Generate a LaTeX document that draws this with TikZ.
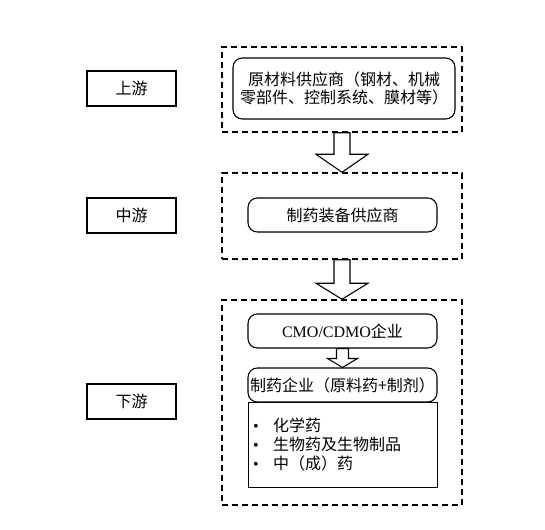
\documentclass[tikz,border=0pt]{standalone}
\usepackage{fontspec}
\setmainfont{Liberation Serif}
\newfontfamily\cjk{Noto Sans CJK SC}
\newcommand{\cjkbig}{\cjk\fontsize{12}{14.4}\selectfont}
\usetikzlibrary{calc}

\tikzset{
  tierbox/.style={draw, line width=1.1pt, dash pattern=on 4.5pt off 3pt, minimum width=180pt},
  stagebox/.style={draw, line width=0.9pt, minimum width=66.75pt, minimum height=26.25pt, font=\cjkbig},
  roundbox/.style={draw, line width=0.8pt, rounded corners=7pt, fill=white, minimum width=141.75pt, minimum height=25.5pt, font=\cjkbig},
  listbox/.style={draw, line width=0.7pt, minimum width=141.75pt, minimum height=63.75pt, inner sep=3.75pt, text width=134.25pt, align=left, font=\cjk\fontsize{12}{14.25}\selectfont},
}

% hollow block arrow: start, tip, half shaft, half head, head length
\newcommand{\hollowarrow}[5]{%
  \draw[line width=0.8pt, fill=white] ($(#1)+(-#3,0)$) -- ($(#2)+(-#3,-#5)$) -- ($(#2)+(-#4,-#5)$)
    -- (#2) -- ($(#2)+(#4,-#5)$) -- ($(#2)+(#3,-#5)$) -- ($(#1)+(#3,0)$) -- cycle;}

\begin{document}
\begin{tikzpicture}[x=0.75pt, y=-0.75pt]
\useasboundingbox (0,0) rectangle (545,529);

% Trams (requadres discontinus)
\node[tierbox, minimum height=63.75pt] (upper) at (342,89.5) {};
\node[tierbox, minimum height=64.5pt] (middle) at (342,216) {};
\node[tierbox, minimum height=153.75pt] (lower) at (342,402.5) {};

% Etiquetes
\node[stagebox] (up) at (131.5,88.5) {上游};
\node[stagebox] (mid) at (131.5,215.5) {中游};
\node[stagebox] (down) at (131.5,401.5) {下游};

% Contingut
\node[roundbox, minimum width=166.5pt, minimum height=45.75pt, align=center,
  font=\cjk\fontsize{12}{13.5}\selectfont] (supplier) at (344,88.5)
  {原材料供应商（钢材、机械\\零部件、控制系统、膜材等）};
\node[roundbox] (equip) at (342.5,215) {制药装备供应商};
\node[roundbox] (cmo) at (342.5,331) {{\rmfamily CMO/CDMO}企业};
\node[listbox] (drugs) at (342.5,444.5)
  {\makebox[15pt][l]{\rmfamily •}化学药\\
   \makebox[15pt][l]{\rmfamily •}生物药及生物制品\\
   \makebox[15pt][l]{\rmfamily •}中（成）药};
\node[roundbox, inner xsep=1pt] (pharma) at (342.5,385) {制药企业（原料药+制剂）};

% Fletxes
\hollowarrow{upper.south}{middle.north}{8}{26}{18}
\hollowarrow{middle.south}{lower.north}{8}{26}{16}
\hollowarrow{cmo.south}{pharma.north}{6}{15}{9}

\end{tikzpicture}
\end{document}
